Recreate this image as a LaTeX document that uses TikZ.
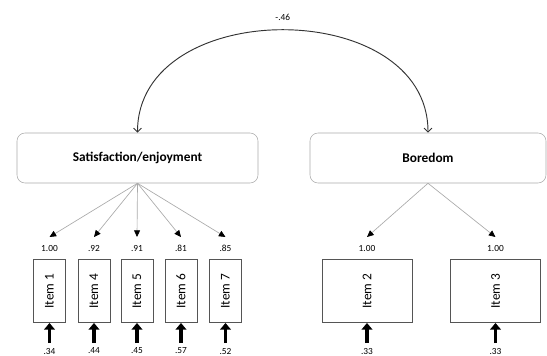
\documentclass[tikz,border=0pt]{standalone}
\usepackage{fontspec}
\setmainfont{Carlito}
\usetikzlibrary{arrows.meta, calc}
\definecolor{mygray1}{RGB}{170, 170, 170}
\definecolor{mygray3}{RGB}{85, 85, 85}
\definecolor{mytext}{RGB}{51, 51, 51}
\tikzset{>=latex}
\begin{document}
\begin{tikzpicture}[x=0.75pt, y=-0.75pt, font=\color{mytext},
  factor/.style = {draw = mygray1, rounded corners=6pt, minimum height=37.5pt, font=\bfseries\fontsize{10}{12}\selectfont},
  itembox/.style = {draw = mygray3, minimum height=47.5pt, font=\fontsize{10}{12}\selectfont},
  num/.style = {font=\fontsize{7}{8}\selectfont, inner sep=0pt},
  load/.style = {draw = mygray1, line width = 0.5pt, -{Triangle[length=5pt, width=4.5pt, color=black]}},
  err/.style = {draw = black, line width = 2.6pt, -{Triangle[length=5pt, width=8pt]}},
  corr/.style = {draw = mytext, line width = 0.7pt, {Straight Barb[length=3pt, width=6pt]}-{Straight Barb[length=3pt, width=6pt]}}]
\useasboundingbox (0,0) rectangle (547,355);

\node[factor, minimum width=180.75pt] (sat) at (137.5, 158) {Satisfaction/enjoyment};
\node[factor, minimum width=177pt] (bor) at (428, 158) {Boredom};

\draw[corr] (sat.north) .. controls +(0,-137) and +(0,-137) .. (bor.north)
  node[num, midway, above=7pt] (r) {-.46};

% satisfaction items
\foreach \n/\x/\l/\e in {1/49.5/1.00/.34, 4/94/.92/.44, 5/137/.91/.45, 6/181/.81/.57, 7/225.5/.85/.52}{
\node[itembox, minimum width=24pt] (item\n) at (\x, 291) {\rotatebox{90}{Item \n}};
\coordinate (tip\n) at (\x, 237);
\node[num] (ld\n) at (\x, 248) {\l};
\draw[load] (sat.south) -- (tip\n);
\coordinate (e\n) at (\x, 343);
\draw[err] (e\n) -- (item\n.south);
\node[num] (ev\n) at (\x, 351) {\e};
}

% boredom items
\foreach \n/\x/\l/\e in {2/367/1.00/.33, 3/495.5/1.00/.33}{
\node[itembox, minimum width=67.5pt] (item\n) at (\x, 291) {\rotatebox{90}{Item \n}};
\coordinate (tip\n) at (\x, 237);
\node[num] (ld\n) at (\x, 248) {\l};
\draw[load] (bor.south) -- (tip\n);
\coordinate (e\n) at (\x, 343);
\draw[err] (e\n) -- (item\n.south);
\node[num] (ev\n) at (\x, 351) {\e};
}

\end{tikzpicture}
\end{document}
